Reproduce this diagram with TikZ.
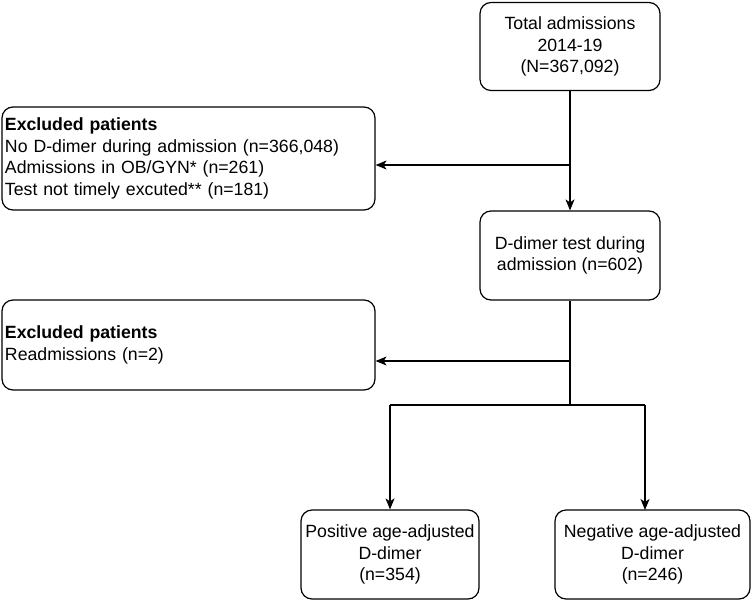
\documentclass[tikz,border=0pt]{standalone}
\usepackage{fontspec}
\setmainfont{Liberation Sans}
\usetikzlibrary{arrows.meta}
\begin{document}
\begin{tikzpicture}[x=1pt,y=-1pt,
  box/.style={draw=black, line width=1.2pt, rounded corners=11pt, align=center,
    inner sep=3pt, font=\fontsize{17.7}{21.5}\selectfont},
  exbox/.style={box, align=left, text width=367pt},
  arr/.style={line width=1.2pt, -{Stealth[length=11pt,width=9pt,inset=3pt]}},
  ln/.style={line width=1.2pt}]
\useasboundingbox (0,0) rectangle (751,602);
\node[box, minimum width=180pt, minimum height=88pt] (b1) at (570,46.5) {Total admissions\\2014-19\\(N=367,092)};
\node[box, minimum width=180pt, minimum height=89pt] (b2) at (570,255.5) {D-dimer test during\\admission (n=602)};
\node[exbox, minimum width=373pt, minimum height=103pt] (e1) at (188.5,158.5) {\textbf{Excluded patients}\\No D-dimer during admission (n=366,048)\\Admissions in OB/GYN* (n=261)\\Test not timely excuted** (n=181)};
\node[exbox, minimum width=373pt, minimum height=90pt] (e2) at (188.5,345) {\textbf{Excluded patients}\\Readmissions (n=2)};
\node[box, minimum width=178pt, minimum height=89pt] (p) at (390,554.5) {Positive age-adjusted\\D-dimer\\(n=354)};
\node[box, minimum width=195pt, minimum height=89pt] (n) at (652.5,554.5) {Negative age-adjusted\\D-dimer\\(n=246)};
\coordinate (j1) at (570,165);
\coordinate (j2) at (570,361);
\coordinate (j3) at (570,405);
\coordinate (bl) at (p.north |- j3);
\coordinate (br) at (645,405);
\coordinate (nt) at (645,510);
\draw[arr] (b1.south) -- (b2.north);
\draw[arr] (j1) -- (j1 -| e1.east);
\draw[ln] (b2.south) -- (j3);
\draw[arr] (j2) -- (j2 -| e2.east);
\draw[ln] (bl) -- (br);
\draw[arr] (bl) -- (p.north);
\draw[arr] (br) -- (nt);
\end{tikzpicture}
\end{document}
